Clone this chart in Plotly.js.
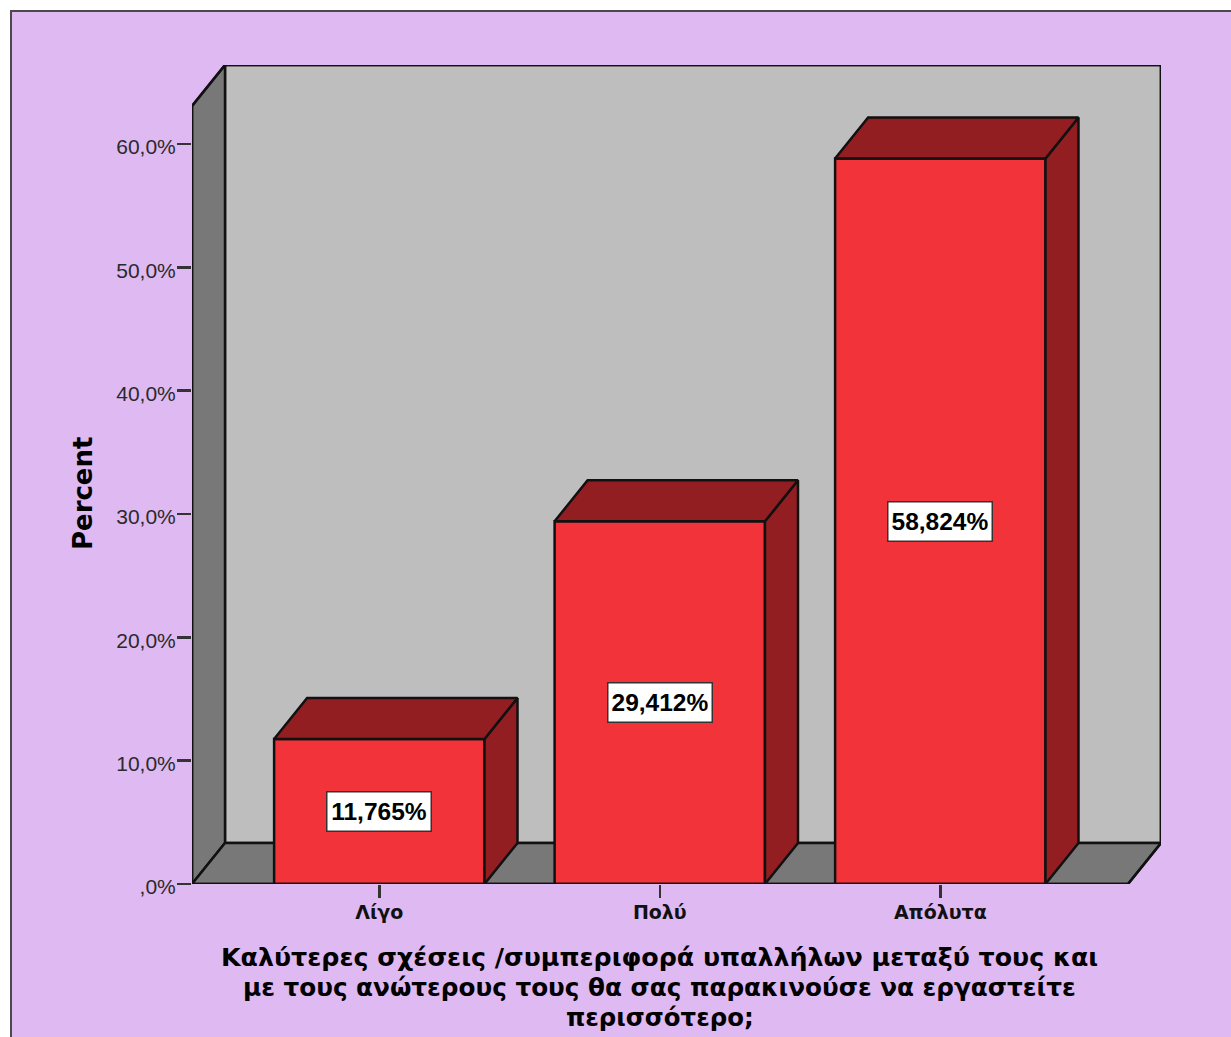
<!DOCTYPE html>
<html>
<head>
<meta charset="utf-8">
<script src="https://cdn.plot.ly/plotly-3.0.1.min.js"></script>
<style>html,body{margin:0;padding:0;background:#fff;overflow:hidden}#chart{width:1231px;height:1037px}</style>
</head>
<body>
<div id="chart"></div>
<script>
// Percent of answers per response category
const categories = ['Λίγο', 'Πολύ', 'Απόλυτα'];
const percentValues = [11.765, 29.412, 58.824];
const tickValues = [0, 10, 20, 30, 40, 50, 60];
const tickLabels = [',0%', '10,0%', '20,0%', '30,0%', '40,0%', '50,0%', '60,0%'];
const xTitleLines = [
  'Καλύτερες σχέσεις /συμπεριφορά υπαλλήλων μεταξύ τους και',
  'με τους ανώτερους τους θα σας παρακινούσε να εργαστείτε',
  'περισσότερο;'
];
const xTitleSizes = [25.3, 24.7, 24.4];
const yTitle = 'Percent';

// Plot frame and scales
const W = 1231, H = 1037;
const plotL = 192, plotR = 1161, plotT = 65, plotB = 884.5;
const pxPerCategory = 280.5, firstCategoryPx = 379.3, pxPerPercent = 12.34;
const xRange = [(plotL - firstCategoryPx) / pxPerCategory, (plotR - firstCategoryPx) / pxPerCategory];
const yRange = [0, (plotB - plotT) / pxPerPercent];

// Oblique depth of the box, in axis units
const depthX = 33 / pxPerCategory;
const depthY = 41 / pxPerPercent;
const barWidth = 0.75;

const ink = '#111111';
const edge = 2.5;
const faceRed = '#F2333A', darkRed = '#931E22';
const wallGrey = '#BEBEBE', sideGrey = '#787878', lilac = '#DEB9F2';

function pathOf(points) {
  return 'M' + points.map(p => p[0] + ',' + p[1]).join('L') + 'Z';
}
function polygonTrace(points, fill) {
  const closed = points.concat([points[0]]);
  return {
    type: 'scatter', mode: 'lines', x: closed.map(p => p[0]), y: closed.map(p => p[1]),
    fill: fill ? 'toself' : 'none', fillcolor: fill || undefined,
    line: {color: ink, width: edge, shape: 'linear'},
    hoverinfo: 'skip', showlegend: false, cliponaxis: false
  };
}

const xLeft = xRange[0], xBack = xRange[1], yTop = yRange[1];

// Back wall, left wall and floor of the box
const wallShapes = [
  {type: 'path', xref: 'x', yref: 'y', layer: 'below', fillcolor: wallGrey, line: {color: ink, width: edge},
   path: pathOf([[xLeft + depthX, depthY], [xBack, depthY], [xBack, yTop], [xLeft + depthX, yTop]])},
  {type: 'path', xref: 'x', yref: 'y', layer: 'below', fillcolor: sideGrey, line: {color: ink, width: edge},
   path: pathOf([[xLeft, 0], [xLeft + depthX, depthY], [xLeft + depthX, yTop], [xLeft, yTop - depthY]])},
  {type: 'path', xref: 'x', yref: 'y', layer: 'below', fillcolor: sideGrey, line: {color: ink, width: edge},
   path: pathOf([[xLeft, 0], [xBack - depthX, 0], [xBack, depthY], [xLeft + depthX, depthY]])}
];

// Page frame: a lilac panel with a dark edge on its top and left
const toPaperX = px => (px - plotL) / (plotR - plotL);
const toPaperY = px => (plotB - px) / (plotB - plotT);
const panel = {
  type: 'rect', xref: 'paper', yref: 'paper', layer: 'below',
  x0: toPaperX(11), x1: toPaperX(W + 20), y0: toPaperY(H + 20), y1: toPaperY(11),
  fillcolor: lilac, line: {color: '#4A4A4A', width: 2}
};

// Silhouette of the box, drawn over the plot edge so its outline stays whole
const outline = polygonTrace([
  [xLeft, 0], [xLeft, yTop - depthY], [xLeft + depthX, yTop], [xBack, yTop],
  [xBack, depthY], [xBack - depthX, 0]
], null);

const frontBars = {
  type: 'bar', x: categories.map((_, i) => i), y: percentValues, width: barWidth,
  marker: {color: faceRed, line: {color: ink, width: edge}},
  hoverinfo: 'skip', showlegend: false
};

// Top and side faces follow each bar's value
const barFaces = [];
percentValues.forEach((v, i) => {
  const l = i - barWidth / 2, r = i + barWidth / 2;
  barFaces.push(polygonTrace([[r, 0], [r + depthX, depthY], [r + depthX, v + depthY], [r, v]], darkRed));
  barFaces.push(polygonTrace([[l, v], [l + depthX, v + depthY], [r + depthX, v + depthY], [r, v]], darkRed));
});

const valueLabels = percentValues.map((v, i) => ({
  x: i, y: v / 2, xref: 'x', yref: 'y', showarrow: false,
  text: v.toFixed(3).replace('.', ',') + '%',
  font: {family: 'Liberation Sans', size: 24.5, weight: 700, color: '#000'},
  bgcolor: '#FFFFFF', bordercolor: '#333333', borderwidth: 1.5,
  width: 103, height: 38, borderpad: 0
}));

// Axis titles sit centred on the categories and on the box's front edge,
// which is off the plot area's centre, so they are placed as annotations
const xTitleNotes = xTitleLines.map((line, i) => ({
  x: 1, y: 0, xref: 'x', yref: 'y', showarrow: false, yanchor: 'middle',
  yshift: -(73.5 + 30 * i),
  text: line,
  font: {family: 'DejaVu Sans', size: xTitleSizes[i], weight: 700, color: '#000'}
}));
const yTitleNote = {
  x: 0, y: 31.7, xref: 'paper', yref: 'y', showarrow: false, textangle: -90,
  xshift: -126,
  text: yTitle,
  font: {family: 'DejaVu Sans', size: 26, weight: 700, color: '#000'}
};

const layout = {
  width: W, height: H, autosize: false,
  paper_bgcolor: '#FFFFFF', plot_bgcolor: 'rgba(0,0,0,0)',
  margin: {l: plotL, r: W - plotR, t: plotT, b: H - plotB, pad: 0},
  showlegend: false, bargap: 0.25,
  font: {family: 'Liberation Sans', color: '#222'},
  xaxis: {
    range: xRange, showgrid: false, zeroline: false, showline: false,
    tickmode: 'array', tickvals: categories.map((_, i) => i), ticktext: categories,
    ticks: 'outside', ticklen: 13, tickwidth: 2.5, tickcolor: '#333', ticklabelstandoff: -2,
    tickfont: {family: 'DejaVu Sans', size: 19, weight: 700, color: '#111'}
  },
  yaxis: {
    range: yRange, showgrid: false, zeroline: false, showline: false,
    tickmode: 'array', tickvals: tickValues, ticktext: tickLabels,
    ticks: 'outside', ticklen: 14, tickwidth: 2.5, tickcolor: '#333',
    ticklabelstandoff: -3, ticklabelshift: 3,
    tickfont: {family: 'Liberation Sans', size: 21, color: '#2A2A2A'}
  },
  shapes: [panel].concat(wallShapes),
  annotations: valueLabels.concat(xTitleNotes, [yTitleNote])
};

Plotly.newPlot('chart', [frontBars, outline].concat(barFaces), layout, {displayModeBar: false, staticPlot: true});
</script>
</body>
</html>
